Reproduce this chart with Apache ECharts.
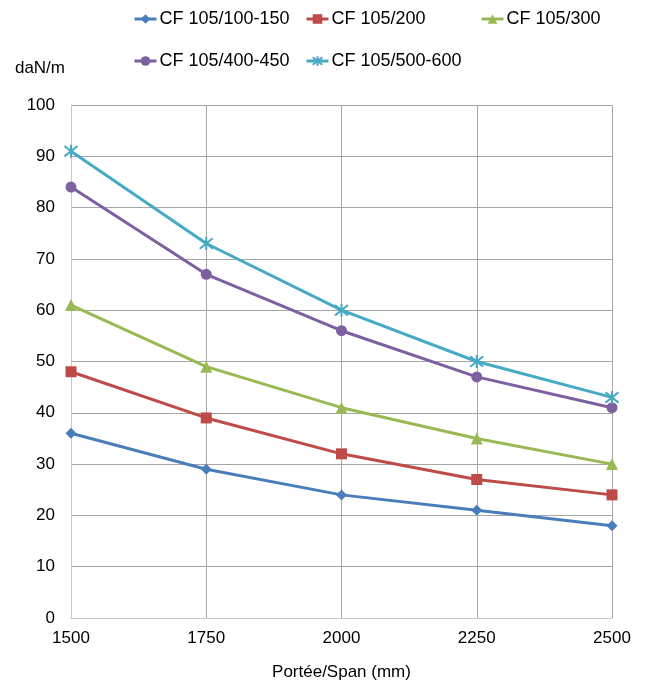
<!DOCTYPE html>
<html>
<head>
<meta charset="utf-8">
<script src="https://cdn.jsdelivr.net/npm/echarts@6/dist/echarts.min.js"></script>
<style>
  html, body { margin: 0; padding: 0; background: #fff; }
  #chart { width: 648px; height: 686px; }
</style>
</head>
<body>
<div id="chart"></div>
<script>
// portée (mm)
const spans = [1500, 1750, 2000, 2250, 2500];
const seriesNames = ["CF 105/100-150", "CF 105/200", "CF 105/300", "CF 105/400-450", "CF 105/500-600"];
const cf100 = [36, 29, 24, 21, 18];
const cf200 = [48, 39, 32, 27, 24];
const cf300 = [61, 49, 41, 35, 30];
const cf400 = [84, 67, 56, 47, 41];
const cf500 = [91, 73, 60, 50, 43];

const colors = ["#4a7ebb", "#be4b48", "#98b954", "#7d60a0", "#46aac5"];
const symbols = ["diamond", "rect", "triangle", "circle", "path://M1,1L9,9M9,1L1,9M5,0L5,10"];
const sizes = [11, 11, 12, 11, 13];
const values = [cf100, cf200, cf300, cf400, cf500];

const series = seriesNames.map((name, i) => ({
  name: name,
  type: "line",
  data: spans.map((s, j) => [s, values[i][j]]),
  symbol: symbols[i],
  symbolSize: sizes[i],
  showSymbol: true,
  lineStyle: { color: colors[i], width: 3 },
  itemStyle: i === 4
    ? { color: "none", borderColor: colors[i], borderWidth: 2 }
    : { color: colors[i], borderColor: colors[i], borderWidth: 0 },
  z: 2 + i
}));

// one legend per item so they sit like the original
const legendPos = [[133, 10], [305, 10], [480, 10], [133, 52], [305, 52]];
const legends = seriesNames.map((name, i) => ({
  data: [name],
  left: legendPos[i][0],
  top: legendPos[i][1],
  padding: 0,
  itemWidth: 22,
  itemHeight: 12,
  itemGap: 4,
  lineStyle: { width: 3 },
  textStyle: { fontFamily: "Liberation Sans", fontSize: 18, color: "#000", padding: [0, 0, 0, -2] }
}));

const chart = echarts.init(document.getElementById("chart"));
chart.setOption({
  animation: false,
  color: colors,
  legend: legends,
  grid: { left: 71, right: 36, top: 105, bottom: 68, containLabel: false },
  xAxis: {
    type: "value",
    min: 1500, max: 2500, interval: 250,
    name: "Portée/Span (mm)",
    nameLocation: "middle",
    nameGap: 46,
    nameTextStyle: { fontFamily: "Liberation Sans", fontSize: 17, color: "#000" },
    axisLine: { lineStyle: { color: "#c8c8c8" } },
    axisTick: { show: false },
    axisLabel: { fontFamily: "Liberation Sans", fontSize: 17, color: "#000", margin: 12, formatter: v => String(v) },
    splitLine: { show: true, lineStyle: { color: "#a6a6a6" } }
  },
  yAxis: {
    type: "value",
    min: 0, max: 100, interval: 10,
    name: "daN/m",
    nameLocation: "end",
    nameGap: 28,
    nameTextStyle: { fontFamily: "Liberation Sans", fontSize: 17, color: "#000", align: "right", padding: [0, 6, 0, 0] },
    axisLine: { show: true, lineStyle: { color: "#c8c8c8" } },
    axisTick: { show: false },
    axisLabel: { fontFamily: "Liberation Sans", fontSize: 17, color: "#000", margin: 16 },
    splitLine: { show: true, lineStyle: { color: "#a6a6a6" } }
  },
  series: series
});
</script>
</body>
</html>
